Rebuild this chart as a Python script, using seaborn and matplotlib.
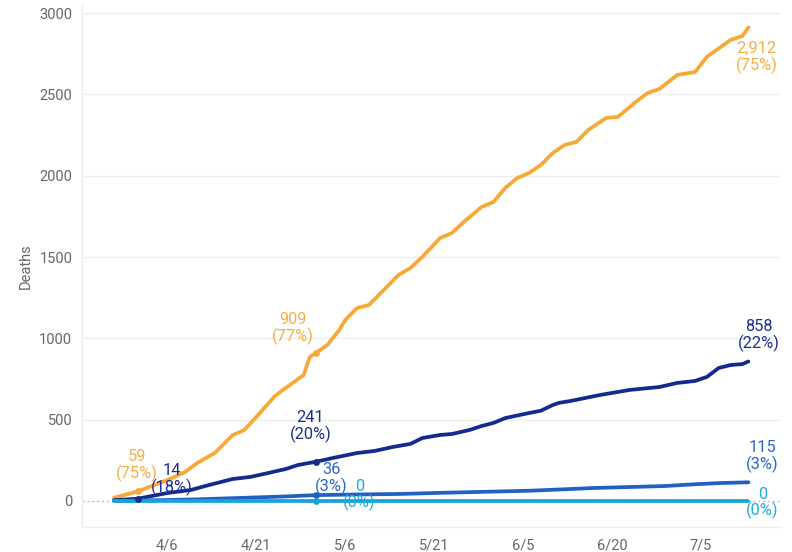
import numpy as np
import pandas as pd
import matplotlib
matplotlib.use("Agg")
import matplotlib.pyplot as plt
import seaborn as sns

# days since 3/28 and deaths
start = pd.Timestamp("2020-03-28")

orange_days = [0, 4, 9, 12, 14, 17, 20, 22, 24, 27, 28, 32, 33, 34, 36, 38, 39, 41, 43, 45, 48, 50,
               52, 55, 57, 59, 62, 64, 66, 68, 70, 72, 74, 76, 78, 80, 83, 85, 88, 90, 92, 95, 98,
               100, 104, 106, 107]
orange_vals = [20, 59, 129, 178, 233, 295, 405, 437, 517, 640, 670, 775, 885, 909, 960, 1052, 1113,
               1187, 1205, 1279, 1390, 1433, 1501, 1617, 1648, 1716, 1808, 1839, 1925, 1986, 2017,
               2066, 2140, 2189, 2208, 2282, 2355, 2362, 2454, 2509, 2534, 2620, 2638, 2731, 2835,
               2860, 2912]

navy_days = [0, 4, 9, 13, 16, 20, 23, 26, 29, 31, 34, 37, 41, 44, 47, 50, 52, 55, 57, 60, 62, 64,
             66, 70, 72, 74, 75, 77, 82, 87, 92, 95, 98, 100, 102, 104, 106, 107]
navy_vals = [5, 14, 49, 68, 98, 135, 148, 172, 197, 221, 241, 265, 295, 308, 332, 351, 387, 406,
             412, 437, 461, 480, 510, 541, 555, 590, 603, 615, 652, 683, 701, 726, 738, 763, 818,
             836, 842, 858]

blue_days = [0, 4, 9, 14, 19, 24, 29, 34, 41, 48, 55, 62, 70, 76, 81, 87, 93, 98, 102, 107]
blue_vals = [0, 3, 6, 10, 16, 22, 28, 36, 40, 43, 50, 56, 63, 72, 80, 86, 92, 103, 110, 115]

cyan_days = [0, 34, 107]
cyan_vals = [0, 0, 0]

series_names = ["orange", "navy", "blue", "cyan"]
line_colors = ["#F7A935", "#132A8E", "#2160C2", "#14A5D6"]
text_colors = ["#F6AE45", "#1B2F8F", "#2A68C8", "#22ABDD"]

# annotations: series, day, text, x offset px, y offset px
notes = [
    ("orange", 4, "59\n(75%)", -1, 26),
    ("navy", 4, "14\n(18%)", 34, 19),
    ("orange", 34, "909\n(77%)", -23, 25),
    ("navy", 34, "241\n(20%)", -5, 35),
    ("blue", 34, "36\n(3%)", 16, 17),
    ("cyan", 34, "0\n(0%)", 44, 6),
    ("orange", 107, "2,912\n(75%)", 8, -30),
    ("navy", 107, "858\n(22%)", 10, 26),
    ("blue", 107, "115\n(3%)", 14, 26),
    ("cyan", 107, "0\n(0%)", 14, -2),
]
marker_days = {"orange": [4, 34], "navy": [4, 34], "blue": [34], "cyan": [34]}

tick_labels = ["4/6", "4/21", "5/6", "5/21", "6/5", "6/20", "7/5"]
tick_days = [9, 24, 39, 54, 69, 84, 99]

days = {"orange": orange_days, "navy": navy_days, "blue": blue_days, "cyan": cyan_days}
vals = {"orange": orange_vals, "navy": navy_vals, "blue": blue_vals, "cyan": cyan_vals}

frames = []
for name in series_names:
    frames.append(pd.DataFrame({
        "date": start + pd.to_timedelta(days[name], unit="D"),
        "deaths": vals[name],
        "series": name,
    }))
df = pd.concat(frames, ignore_index=True)

sns.set_theme(style="white")
plt.rcParams["font.family"] = ["Roboto", "DejaVu Sans"]

fig = plt.figure(figsize=(7.92, 5.52), dpi=100)
ax = fig.add_axes([82 / 792, 1 - 527 / 552, (781 - 82) / 792, (527 - 5) / 552])

ax.axhline(0, color="#bbbbbb", lw=1, ls=(0, (1.5, 2)), zorder=1)
for y in range(500, 3001, 500):
    ax.axhline(y, color="#eeeeee", lw=1, zorder=0)

sns.lineplot(data=df, x="date", y="deaths", hue="series", hue_order=series_names,
             palette=line_colors, lw=2.7, legend=False, ax=ax, zorder=3)

col = dict(zip(series_names, line_colors))
tcol = dict(zip(series_names, text_colors))
for name in series_names:
    lookup = dict(zip(days[name], vals[name]))
    md = marker_days[name]
    ax.scatter(start + pd.to_timedelta(md, unit="D"), [lookup[d] for d in md],
               s=24, color=col[name], zorder=4, linewidths=0)

for name, d, txt, dx, dy in notes:
    lookup = dict(zip(days[name], vals[name]))
    ax.annotate(txt, (start + pd.Timedelta(days=d), lookup[d]), xytext=(dx * 0.72, dy * 0.72),
                textcoords="offset points", ha="center", va="center", fontsize=11.8,
                color=tcol[name], linespacing=1.05, zorder=5)

ax.set_xlim(start - pd.Timedelta(days=5.4), start + pd.Timedelta(days=112.5))
ax.set_ylim(-160, 3050)
ax.set_yticks(range(0, 3001, 500))
ax.set_xticks(start + pd.to_timedelta(tick_days, unit="D"))
ax.set_xticklabels(tick_labels)
ax.tick_params(axis="both", length=0, labelsize=10.5, colors="#666666")
ax.tick_params(axis="x", pad=8)
ax.tick_params(axis="y", pad=7)
ax.set_xlabel("")
ax.set_ylabel("Deaths", fontsize=10.5, color="#666666", labelpad=5)

for side in ["top", "right"]:
    ax.spines[side].set_visible(False)
for side in ["left", "bottom"]:
    ax.spines[side].set_color("#eeeeee")
    ax.spines[side].set_linewidth(1)

fig.savefig("out.png", dpi=100)
